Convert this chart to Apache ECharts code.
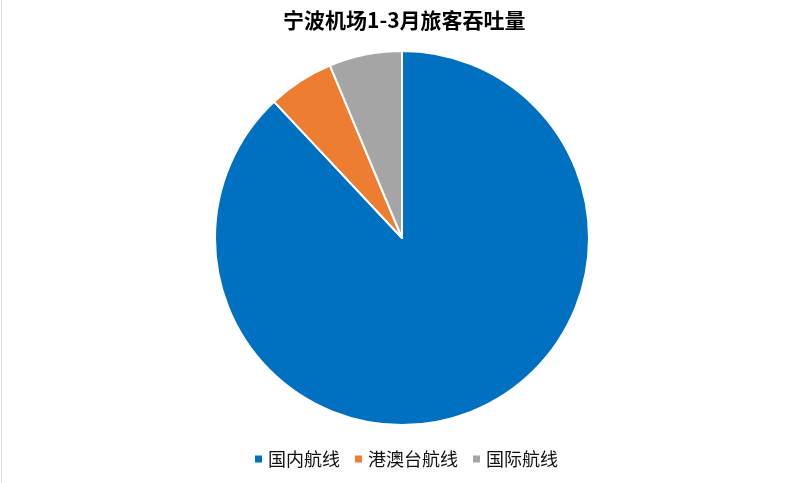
<!DOCTYPE html>
<html>
<head>
<meta charset="utf-8">
<script src="https://cdn.jsdelivr.net/npm/echarts@6/dist/echarts.min.js"></script>
<style>
    html, body { margin: 0; padding: 0; background: #fff; }
    #mainarea { width: 786px; height: 483px; border-left: 1px solid #d6dbe3; margin-left: 1px; }
</style>
</head>
<body>
<div id="mainarea"></div>
<script>
// 旅客吞吐量占比 (读图估计, %)
var categories = ['国内航线', '港澳台航线', '国际航线'];
var values = [88.0, 5.7, 6.3];
var colors = ['#0070C0', '#ED7D31', '#A5A5A5'];

var pieData = categories.map(function (name, i) {
    return { name: name, value: values[i] };
});

var myChart = echarts.init(document.getElementById('mainarea'));

myChart.setOption({
    color: colors,
    title: {
        text: '宁波机场1-3月旅客吞吐量',
        left: 276,
        top: 5,
        textStyle: {
            fontFamily: 'Noto Sans CJK SC',
            fontSize: 21,
            fontWeight: 'bold',
            color: '#000'
        }
    },
    legend: {
        top: 445,
        left: 246,
        icon: 'rect',
        itemWidth: 9,
        itemHeight: 9,
        itemGap: 13,
        textStyle: {
            fontFamily: 'Noto Sans CJK SC',
            fontSize: 18,
            color: '#111'
        },
        data: categories
    },
    series: [
        {
            type: 'pie',
            center: [400, 238],
            radius: 187,
            startAngle: 90,
            clockwise: true,
            label: { show: false },
            labelLine: { show: false },
            emphasis: { disabled: true },
            itemStyle: {
                borderColor: '#fff',
                borderWidth: 2
            },
            animation: false,
            data: pieData
        }
    ]
});
</script>
</body>
</html>
